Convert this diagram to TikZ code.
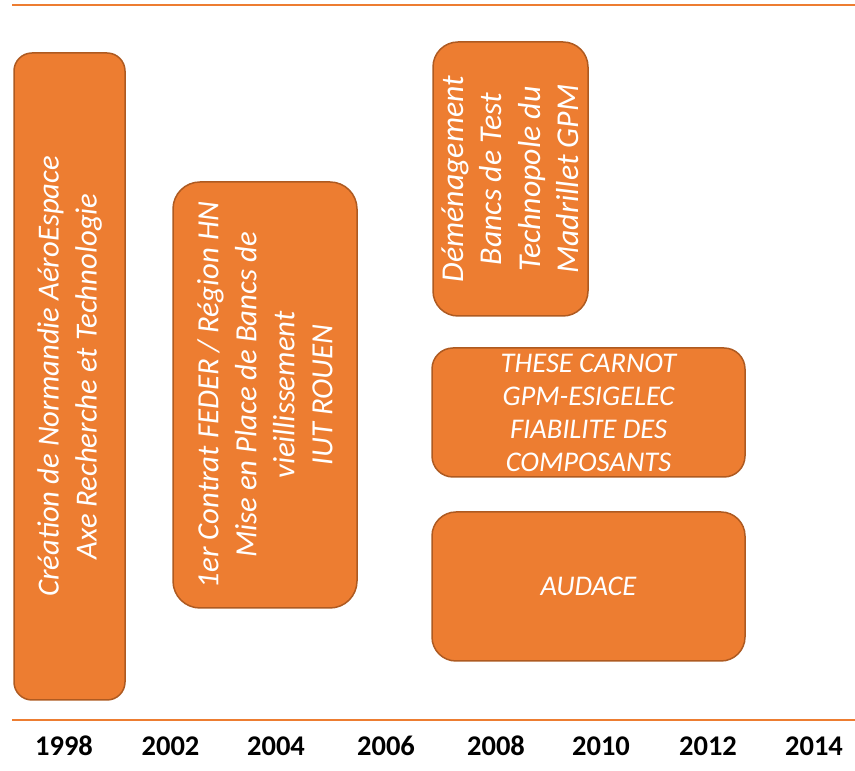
\documentclass[tikz,border=0pt]{standalone}
\usepackage{fontspec}
\setmainfont{Carlito}
\definecolor{boxfill}{HTML}{ED7D31}
\definecolor{boxline}{HTML}{AE5A21}
\begin{document}
\begin{tikzpicture}[x=1pt,y=1pt,
  evbox/.style={draw=boxline,fill=boxfill,line width=1.5pt,inner sep=0pt},
  evtext/.style={text=white,align=center,inner sep=0pt,font=\itshape\fontsize{28.5}{38}\selectfont},
  yearlbl/.style={anchor=base,inner sep=0pt,font=\bfseries\fontsize{28.5}{34}\selectfont},
  axisline/.style={draw=boxfill,line width=2pt}]
\useasboundingbox (0,0) rectangle (855,771);
% axis lines
\coordinate (tl) at (12,766);
\coordinate (tr) at (855,766);
\coordinate (bl) at (12,51);
\coordinate (br) at (855,51);
\draw[axisline] (tl) -- (tr);
\draw[axisline] (bl) -- (br);
% boxes
\node[evbox,rounded corners=18pt,minimum width=111pt,minimum height=647pt] (b1) at (69.5,394.5) {};
\node[evbox,rounded corners=27pt,minimum width=184pt,minimum height=426pt] (b2) at (265,376) {};
\node[evbox,rounded corners=25pt,minimum width=155pt,minimum height=274pt] (b3) at (510.5,592) {};
\node[evbox,rounded corners=21pt,minimum width=313pt,minimum height=129pt] (b4) at (588.5,358.5) {};
\node[evbox,rounded corners=24pt,minimum width=313pt,minimum height=149pt] (b5) at (588.5,184.5) {};
% texts
\node[evtext,rotate=90,font=\itshape\fontsize{30.7}{38}\selectfont] (t1) at (b1.center) {Création de Normandie AéroEspace\\Axe Recherche et Technologie};
\node[evtext,rotate=90,font=\itshape\fontsize{30.8}{38}\selectfont] (t2) at (b2.center) {1er Contrat FEDER / Région HN\\Mise en Place de Bancs de\\vieillissement\\IUT ROUEN};
\node[evtext,rotate=90,font=\itshape\fontsize{31.8}{38.5}\selectfont] (t3) at (b3.center) {Déménagement\\Bancs de Test\\Technopole du\\Madrillet GPM};
\node[evtext,font=\itshape\fontsize{28.5}{33}\selectfont] (t4) at (b4.center) {THESE CARNOT\\GPM-ESIGELEC\\FIABILITE DES\\COMPOSANTS};
\node[evtext] (t5) at (b5.center) {AUDACE};
% years
\node[yearlbl] (y1998) at (64,15) {1998};
\node[yearlbl] (y2002) at (170.5,15) {2002};
\node[yearlbl] (y2004) at (276,15) {2004};
\node[yearlbl] (y2006) at (386,15) {2006};
\node[yearlbl] (y2008) at (496,15) {2008};
\node[yearlbl] (y2010) at (601,15) {2010};
\node[yearlbl] (y2012) at (708,15) {2012};
\node[yearlbl] (y2014) at (814,15) {2014};
\end{tikzpicture}
\end{document}
